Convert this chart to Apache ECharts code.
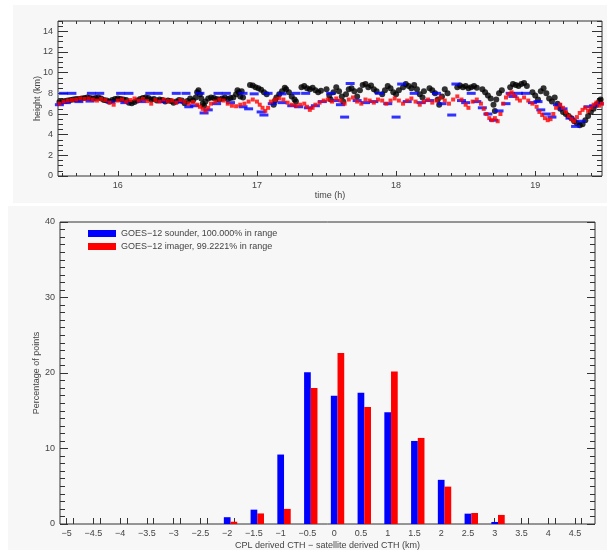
<!DOCTYPE html>
<html>
<head>
<meta charset="utf-8">
<script src="https://cdn.jsdelivr.net/npm/echarts@6/dist/echarts.min.js"></script>
<style>
  html, body { margin: 0; padding: 0; background: #fff; }
  #main { width: 607px; height: 550px; }
</style>
</head>
<body>
<div id="main"></div>
<script>
// top panel: cloud top height vs time (h)
const cplPoints = [
  [15.58,7.15],[15.60,7.2],[15.62,7.25],[15.64,7.3],[15.66,7.35],[15.68,7.4],[15.70,7.45],[15.72,7.45],[15.74,7.5],[15.76,7.55],
  [15.78,7.6],[15.80,7.55],[15.82,7.5],[15.84,7.55],[15.86,7.6],[15.88,7.5],[15.90,7.35],[15.92,7.3],[15.94,7.2],[15.96,7.35],
  [15.98,7.45],[16.00,7.5],[16.02,7.45],[16.04,7.4],[16.06,7.35],[16.08,7.1],[16.10,7.05],[16.12,7.15],[16.14,7.3],[16.16,7.45],
  [16.18,7.55],[16.20,7.6],[16.22,7.55],[16.24,7.4],[16.26,7.45],[16.28,7.3],[16.30,7.4],[16.32,7.35],[16.34,7.2],[16.36,7.3],
  [16.38,7.25],[16.40,7.1],[16.42,7.2],[16.44,7.35],[16.46,7.3],[16.48,7.05],[16.50,7.25],[16.52,7.5],[16.54,7.3],
  [16.56,7.6],[16.57,8.1],[16.58,8.3],[16.59,7.9],[16.60,7.5],[16.61,7.0],[16.62,6.8],[16.63,7.2],[16.65,7.5],[16.67,7.6],
  [16.69,7.55],[16.71,7.45],[16.73,7.4],[16.75,7.5],[16.77,7.6],[16.79,7.45],[16.81,7.55],[16.83,7.6],[16.85,7.9],[16.86,8.3],
  [16.87,8.1],[16.88,7.7],[16.89,8.2],[16.90,7.6],
  [16.95,8.8],[16.97,8.75],[16.99,8.6],[17.01,8.5],[17.03,8.35],[17.05,8.1],[17.07,7.9],
  [17.12,6.9],[17.13,7.3],[17.14,7.6],[17.16,7.9],[17.18,8.2],[17.20,8.55],[17.21,8.4],[17.23,8.1],[17.25,7.7],[17.27,7.4],[17.28,7.2],
  [17.32,8.6],[17.34,8.7],[17.36,8.5],[17.38,8.4],[17.40,8.55],[17.42,8.3],[17.44,8.1],[17.46,8.25],
  [17.50,8.4],[17.52,7.8],[17.53,7.4],[17.55,8.1],[17.57,8.6],[17.59,8.2],[17.61,7.7],[17.62,7.2],[17.64,7.9],[17.66,8.4],
  [17.68,8.5],[17.70,8.2],[17.72,7.7],[17.74,8.3],
  [17.76,8.8],[17.78,8.9],[17.80,8.6],[17.82,8.75],[17.84,8.4],[17.86,8.2],
  [17.90,7.9],[17.92,8.3],[17.94,8.7],[17.96,8.5],[17.98,8.1],[18.00,7.9],[18.02,8.3],
  [18.05,8.6],[18.07,8.9],[18.09,8.7],[18.11,8.5],[18.13,8.8],[18.15,8.4],[18.17,7.9],[18.19,7.6],[18.20,8.2],
  [18.24,8.5],[18.26,8.3],[18.28,8.0],[18.30,7.4],[18.31,6.9],[18.33,7.7],[18.35,8.4],[18.37,8.0],
  [18.44,8.6],[18.46,8.75],[18.48,8.6],[18.50,8.7],[18.52,8.5],[18.54,8.6],[18.56,8.7],[18.58,8.55],
  [18.62,8.4],[18.64,8.1],[18.66,7.8],[18.68,7.5],[18.70,6.9],[18.71,6.3],[18.72,7.4],[18.74,8.0],[18.76,8.3],
  [18.82,8.6],[18.84,8.9],[18.86,8.8],[18.88,8.7],[18.90,8.9],[18.92,9.0],[18.94,8.7],
  [18.98,8.1],[19.00,7.8],[19.02,7.4],[19.04,8.2],[19.06,8.5],[19.08,8.0],[19.10,7.5],[19.12,7.2],[19.14,7.6],[19.16,7.0],
  [19.18,6.5],[19.20,6.2],[19.22,6.0],[19.24,5.8],[19.26,5.6],[19.28,5.3],[19.30,5.1],[19.32,4.9],[19.34,5.0],[19.36,5.4],
  [19.38,5.8],[19.40,6.2],[19.42,6.5],[19.44,6.9],[19.46,7.2],[19.47,7.4]
];

const sounderPoints = [
  [15.61,8.0],[15.67,8.0],[15.81,8.0],[15.87,8.0],[16.02,8.0],[16.08,8.0],[16.23,8.0],[16.29,8.0],[16.42,8.0],[16.49,8.0],
  [16.59,8.0],[16.72,8.0],[16.78,8.0],[16.90,8.0],[16.98,7.95],[17.08,8.0],[17.18,7.95],[17.28,8.0],[17.35,8.0],[17.53,8.0],
  [17.67,8.95],[17.88,8.0],[18.04,8.9],[18.13,8.0],[18.29,8.0],[18.43,8.9],[18.54,8.0],[18.82,8.0],[18.88,8.0],[18.93,8.0],
  [15.58,6.9],[15.63,7.1],[15.72,7.2],[15.80,7.25],[15.95,7.15],[16.05,7.1],[16.17,7.2],[16.32,7.2],[16.44,7.15],[16.51,6.7],
  [16.55,6.8],[16.62,6.1],[16.65,6.4],[16.71,7.0],[16.81,7.1],[16.90,6.7],[16.94,6.5],[17.03,6.2],[17.05,5.9],[17.11,7.0],
  [17.18,7.1],[17.25,6.8],[17.30,6.7],[17.37,6.6],[17.42,6.8],[17.47,7.2],[17.56,7.3],[17.60,6.9],[17.63,5.7],[17.72,7.3],
  [17.78,7.1],[17.84,7.2],[17.94,7.0],[18.00,5.7],[18.08,7.2],[18.18,7.1],[18.24,7.3],[18.33,7.0],[18.40,5.9],[18.47,7.3],
  [18.50,7.1],[18.58,7.2],[18.62,6.6],[18.66,6.0],[18.70,5.4],[18.74,6.3],[18.79,7.0],[18.84,7.7],[18.98,7.1],[19.02,7.2],
  [19.04,6.4],[19.08,6.0],[19.12,5.7],[19.16,6.9],[19.20,6.5],[19.25,5.6],[19.29,4.8],[19.33,5.3],[19.38,6.7],[19.42,6.8],[19.46,7.0]
];

const imagerPoints = [
  [15.58,7.0],[15.61,7.2],[15.64,7.3],[15.67,7.35],[15.70,7.4],[15.73,7.5],[15.76,7.45],[15.79,7.5],[15.82,7.4],[15.85,7.3],
  [15.88,7.45],[15.91,7.35],[15.94,7.1],[15.97,6.9],[16.00,7.3],[16.03,7.4],[16.06,7.2],[16.09,7.35],[16.12,7.5],[16.15,7.3],
  [16.18,7.45],[16.21,7.25],[16.24,7.0],[16.27,7.35],[16.30,7.2],[16.33,7.4],[16.36,7.25],[16.39,7.3],[16.42,7.1],[16.45,7.35],
  [16.48,7.2],[16.51,7.0],[16.54,7.15],[16.57,6.9],[16.59,6.7],[16.61,6.5],[16.63,6.3],[16.65,6.6],[16.67,7.0],[16.70,7.2],
  [16.73,7.4],[16.76,7.3],[16.79,7.0],[16.82,6.8],[16.85,6.75],[16.88,6.9],[16.91,7.0],[16.94,7.2],[16.97,7.4],[17.00,7.2],
  [17.02,6.9],[17.04,6.6],[17.06,6.3],[17.08,6.6],[17.10,7.2],[17.13,7.4],[17.16,7.5],[17.19,7.4],[17.22,7.1],[17.25,6.9],
  [17.28,6.8],[17.31,6.9],[17.34,7.0],[17.36,6.7],[17.38,6.4],[17.40,6.6],[17.42,6.9],[17.45,7.1],[17.48,7.3],[17.51,7.4],
  [17.54,7.2],[17.57,7.5],[17.60,7.3],[17.63,7.0],[17.66,7.4],[17.69,7.6],[17.72,7.2],[17.75,7.0],[17.78,7.4],[17.81,7.3],
  [17.84,7.1],[17.87,7.4],[17.90,7.3],[17.93,7.0],[17.96,7.3],[17.99,7.5],[18.02,7.3],[18.05,7.0],[18.08,7.3],[18.11,7.5],
  [18.14,7.2],[18.17,6.9],[18.20,7.2],[18.23,7.4],[18.26,7.1],[18.29,7.3],[18.32,7.6],[18.35,7.3],[18.38,7.0],[18.41,7.4],
  [18.44,7.7],[18.47,7.4],[18.50,6.9],[18.52,6.6],[18.55,7.2],[18.58,7.4],[18.61,7.0],[18.63,6.5],[18.65,6.0],[18.67,5.6],
  [18.69,5.4],[18.71,5.6],[18.73,5.3],[18.75,6.0],[18.77,7.0],[18.79,7.6],[18.81,7.9],[18.83,8.1],[18.85,7.8],[18.87,7.5],
  [18.89,7.3],[18.92,7.6],[18.95,7.3],[18.98,7.0],[19.01,6.7],[19.03,6.2],[19.05,5.9],[19.07,5.6],[19.09,5.4],[19.11,5.5],
  [19.13,6.0],[19.15,6.6],[19.18,6.9],[19.20,6.6],[19.22,6.2],[19.24,5.8],[19.26,5.5],[19.28,5.3],[19.30,5.7],[19.32,6.1],
  [19.34,6.4],[19.36,6.6],[19.38,6.3],[19.40,6.6],[19.42,6.9],[19.44,7.1],[19.46,6.8],[19.48,7.0]
];

const timeTicks = [16, 17, 18, 19];
const heightTicks = [0, 2, 4, 6, 8, 10, 12, 14];

// bottom panel: histogram of CTH differences
const binCenters = [-2, -1.5, -1, -0.5, 0, 0.5, 1, 1.5, 2, 2.5, 3];
const sounderPct = [0.9, 1.9, 9.2, 20.1, 17.0, 17.4, 14.8, 11.0, 5.85, 1.37, 0.27];
const imagerPct = [0.3, 1.4, 2.0, 18.0, 22.65, 15.5, 20.2, 11.4, 4.95, 1.46, 1.2];
const diffTicks = [-5, -4.5, -4, -3.5, -3, -2.5, -2, -1.5, -1, -0.5, 0, 0.5, 1, 1.5, 2, 2.5, 3, 3.5, 4, 4.5];
const pctTicks = [0, 10, 20, 30, 40];

const sounderName = 'GOES\u221212 sounder, 100.000% in range';
const imagerName = 'GOES\u221212 imager, 99.2221% in range';

const binWidth = 0.125;
const FONT = 'Liberation Sans, Arial, sans-serif';
const INK = '#333';

function steps(a, b, s) {
  const out = [];
  for (let v = a; v <= b + 1e-9; v += s) out.push(+v.toFixed(3));
  return out;
}
const fmt = v => String(v).replace('-', '\u2212');

// one axis = one set of ticks (and maybe labels); lines come from the grid border
function axis(grid, pos, min, max, ticks, len, labels, extra) {
  return Object.assign({
    type: 'value', gridIndex: grid, position: pos, min: min, max: max,
    axisLine: { show: false, onZero: false },
    splitLine: { show: false },
    nameMoveOverlap: false,
    axisTick: { show: true, inside: true, length: len, customValues: ticks, lineStyle: { color: INK, width: 1 } },
    axisLabel: labels
      ? { show: true, customValues: labels, formatter: fmt, fontSize: 9, color: '#444', fontFamily: FONT, margin: 5 }
      : { show: false }
  }, extra || {});
}

const chart = echarts.init(document.getElementById('main'));

const tMin = 15.57, tMax = 19.48;
const dMin = -5.125, dMax = 4.875;
const nameStyle = { fontSize: 9, color: '#444', fontFamily: FONT };

chart.setOption({
  animation: false,
  backgroundColor: '#fff',
  graphic: [
    { type: 'rect', z: -10, shape: { x: 13, y: 5, width: 594, height: 198 }, style: { fill: '#f7f7f7' } },
    { type: 'rect', z: -10, shape: { x: 8, y: 206, width: 599, height: 344 }, style: { fill: '#f7f7f7' } }
  ],
  grid: [
    { left: 58, top: 21, width: 544, height: 155, outerBoundsMode: 'none', containLabel: false,
      show: true, borderColor: INK, borderWidth: 1, backgroundColor: 'transparent' },
    { left: 60, top: 222, width: 535, height: 302, outerBoundsMode: 'none', containLabel: false,
      show: true, borderColor: INK, borderWidth: 1, backgroundColor: 'transparent' }
  ],
  legend: {
    orient: 'vertical', left: 88, top: 229, itemWidth: 28, itemHeight: 7, itemGap: 4,
    icon: 'rect', padding: 0,
    textStyle: { fontSize: 9, color: '#444', fontFamily: FONT },
    data: [sounderName, imagerName]
  },
  xAxis: [
    axis(0, 'bottom', tMin, tMax, timeTicks, 5, timeTicks,
      { name: 'time (h)', nameLocation: 'middle', nameGap: 15, nameTextStyle: nameStyle }),
    axis(0, 'bottom', tMin, tMax, steps(15.6, 19.4, 0.1), 3, null),
    axis(0, 'top', tMin, tMax, steps(15.6, 19.4, 0.1), 3, null),
    axis(1, 'bottom', dMin, dMax, diffTicks.flatMap(v => [v, v + binWidth]), 6, diffTicks,
      { name: 'CPL derived CTH \u2212 satellite derived CTH (km)', nameLocation: 'middle', nameGap: 17, nameTextStyle: nameStyle })
  ],
  yAxis: [
    axis(0, 'left', 0, 15, heightTicks, 10, heightTicks,
      { name: 'height (km)', nameLocation: 'middle', nameGap: 16, nameTextStyle: nameStyle }),
    axis(0, 'left', 0, 15, steps(0, 15, 0.5), 5, null),
    axis(0, 'right', 0, 15, heightTicks, 10, null),
    axis(0, 'right', 0, 15, steps(0, 15, 0.5), 5, null),
    axis(1, 'left', 0, 40, pctTicks, 8, pctTicks,
      { name: 'Percentage of points', nameLocation: 'middle', nameGap: 19, nameTextStyle: nameStyle }),
    axis(1, 'left', 0, 40, steps(0, 40, 1), 5, null),
    axis(1, 'right', 0, 40, pctTicks, 8, null),
    axis(1, 'right', 0, 40, steps(0, 40, 1), 5, null)
  ],
  series: [
    {
      name: 'CPL', type: 'scatter', xAxisIndex: 0, yAxisIndex: 0,
      symbol: 'circle', symbolSize: 6, itemStyle: { color: '#000' }, data: cplPoints
    },
    {
      name: 'sounder', type: 'scatter', xAxisIndex: 0, yAxisIndex: 0,
      symbol: 'rect', symbolSize: [9, 3], itemStyle: { color: '#0000ff' }, data: sounderPoints
    },
    {
      name: 'imager', type: 'scatter', xAxisIndex: 0, yAxisIndex: 0,
      symbol: 'rect', symbolSize: [4, 4], itemStyle: { color: '#ff0000' }, data: imagerPoints
    },
    {
      name: sounderName, type: 'bar', xAxisIndex: 3, yAxisIndex: 4,
      barWidth: 6.7, barGap: '-100%', itemStyle: { color: '#0000ff' },
      data: binCenters.map((b, i) => [b, sounderPct[i]])
    },
    {
      name: imagerName, type: 'bar', xAxisIndex: 3, yAxisIndex: 4,
      barWidth: 6.7, barGap: '-100%', itemStyle: { color: '#ff0000' },
      data: binCenters.map((b, i) => [b + binWidth, imagerPct[i]])
    }
  ]
});
</script>
</body>
</html>
